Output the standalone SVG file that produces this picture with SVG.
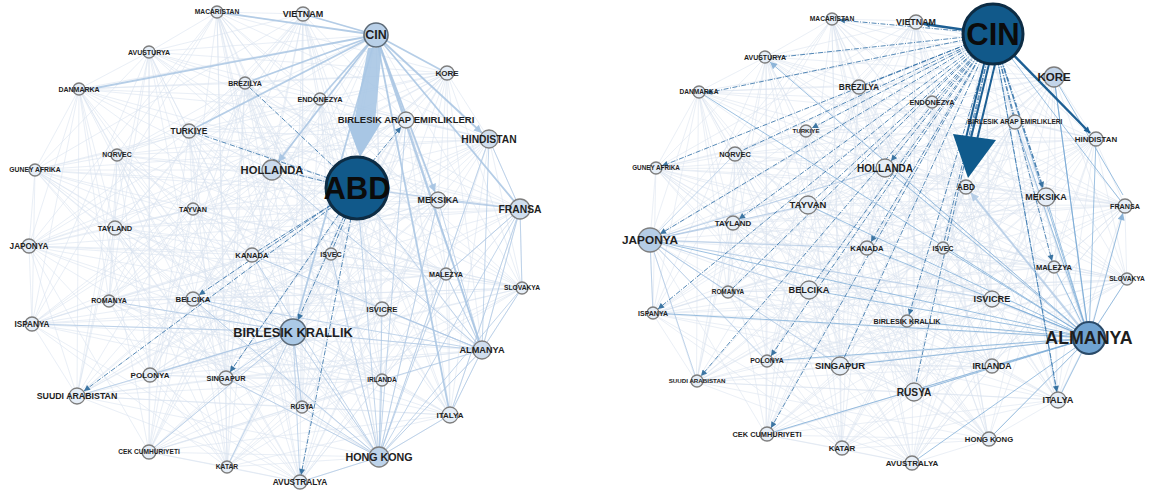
<svg xmlns="http://www.w3.org/2000/svg" xmlns:xlink="http://www.w3.org/1999/xlink" width="1149" height="491" viewBox="0 0 1149 491">
<style>
.m{fill:none;stroke:#bfd0e5;stroke-width:.55;opacity:.6}
.lt{fill:none;stroke:#a9c4e2;stroke-width:1;opacity:.7}
.lw{fill:none;stroke:#a9c5e3;stroke-width:1.8;opacity:.85}
.dd{fill:none;stroke:#2e6ea5;stroke-width:.95;stroke-dasharray:5 1.5 1 1.5;opacity:.85}
.ds{fill:none;stroke:#1d5f94;stroke-width:2.4}
.md{fill:none;stroke:#74a6d4;stroke-width:1;opacity:.7}
.n circle{fill:#e6eef7;stroke:#7e7e7e;stroke-width:1.3}
text{font-family:"Liberation Sans",Arial,sans-serif;font-weight:bold;fill:#1e1e1e;text-anchor:middle}
</style>
<defs>
<marker id="ad" viewBox="0 0 10 10" refX="10" refY="5" markerWidth="7" markerHeight="6" markerUnits="userSpaceOnUse" orient="auto"><path d="M0 0L10 5L0 10z" fill="#1d5f94"/></marker>
<marker id="am" viewBox="0 0 10 10" refX="10" refY="5" markerWidth="8" markerHeight="7" markerUnits="userSpaceOnUse" orient="auto"><path d="M0 0L10 5L0 10z" fill="#5f97c9"/></marker>
<marker id="al" viewBox="0 0 10 10" refX="10" refY="5" markerWidth="9" markerHeight="8" markerUnits="userSpaceOnUse" orient="auto"><path d="M0 0L10 5L0 10z" fill="#9fbfe0"/></marker>
<g id="mesh" class="m">
<path d="M217 12L303 14 376 35 149 52 245 83 79 89 447 73 320 99 406 120 489 139 189 131 117 155 35 170 272 170 357 188 438 200 520 209 193 209 115 228 29 246 252 255 331 254 446 274 522 288 109 301 193 299 32 324 293 332 382 309 482 350 150 375 226 378 77 396 382 380 302 407 450 415 149 452 227 467 379 457 300 482Z"/>
<path d="M217 12L149 52 447 73 489 139 35 170 438 200 115 228 331 254 109 301 293 332 150 375 382 380 149 452 300 482 376 35 79 89 406 120 117 155 357 188 193 209 252 255 522 288 32 324 482 350 77 396 450 415 379 457 303 14 245 83 320 99 189 131 272 170 520 209 29 246 446 274 193 299 382 309 226 378 302 407 227 467Z"/>
<path d="M217 12L320 99 357 188 331 254 382 309 450 415 376 35 489 139 520 209 522 288 150 375 227 467 245 83 117 155 115 228 193 299 77 396 300 482 447 73 272 170 252 255 293 332 302 407 303 14 406 120 438 200 446 274 482 350 149 452 149 52 189 131 193 209 109 301 226 378 379 457 79 89 35 170 29 246 32 324 382 380Z"/>
<path d="M217 12L489 139 115 228 293 332 149 452 79 89 357 188 522 288 77 396 303 14 189 131 29 246 382 309 227 467 447 73 438 200 109 301 382 380 376 35 117 155 252 255 482 350 379 457 320 99 520 209 193 299 302 407 149 52 35 170 331 254 150 375 300 482 406 120 193 209 32 324 450 415 245 83 272 170 446 274 226 378Z"/>
<path d="M217 12L117 155 446 274 382 380 245 83 438 200 32 324 227 467 406 120 29 246 150 375 303 14 35 170 522 288 302 407 79 89 520 209 293 332 379 457 489 139 252 255 226 378 376 35 272 170 109 301 450 415 447 73 193 209 382 309 300 482 189 131 331 254 77 396 149 52 357 188 193 299 149 452 320 99 115 228 482 350Z"/>
<path d="M217 12L272 170 32 324 300 482 35 170 193 299 379 457 117 155 109 301 227 467 189 131 522 288 149 452 489 139 446 274 450 415 406 120 331 254 302 407 320 99 252 255 382 380 447 73 29 246 77 396 79 89 115 228 226 378 245 83 193 209 150 375 149 52 520 209 482 350 376 35 438 200 382 309 303 14 357 188 293 332Z"/>
<path d="M217 12L193 209 302 407 117 155 382 309 79 89 446 274 300 482 520 209 382 380 189 131 293 332 245 83 331 254 379 457 438 200 77 396 489 139 32 324 149 52 252 255 227 467 357 188 226 378 406 120 193 299 376 35 29 246 149 452 272 170 150 375 320 99 109 301 303 14 115 228 450 415 35 170 482 350 447 73 522 288Z"/>
<path d="M217 12L29 246 379 457 193 209 149 452 438 200 302 407 272 170 77 396 117 155 150 375 489 139 382 309 320 99 32 324 79 89 109 301 149 52 446 274 303 14 252 255 300 482 115 228 227 467 520 209 450 415 357 188 382 380 35 170 226 378 189 131 482 350 406 120 293 332 447 73 193 299 245 83 522 288 376 35 331 254Z"/>
<path d="M217 12L376 35 245 83 447 73 406 120 189 131 35 170 357 188 520 209 115 228 252 255 446 274 109 301 32 324 382 309 150 375 77 396 302 407 149 452 379 457Z"/>
<path d="M303 14L149 52 79 89 320 99 489 139 117 155 272 170 438 200 193 209 29 246 331 254 522 288 193 299 293 332 482 350 226 378 382 380 450 415 227 467 300 482Z"/>
<path d="M217 12L447 73 35 170 115 228 109 301 150 375 149 452 376 35 406 120 357 188 252 255 32 324 77 396 379 457 245 83 189 131 520 209 446 274 382 309 302 407Z"/>
<path d="M303 14L320 99 272 170 29 246 193 299 226 378 227 467 149 52 489 139 438 200 331 254 293 332 382 380 300 482 79 89 117 155 193 209 522 288 482 350 450 415Z"/>
<path d="M217 12L357 188 382 309 376 35 520 209 150 375 245 83 115 228 77 396 447 73 252 255 302 407 406 120 446 274 149 452 189 131 109 301 379 457 35 170 32 324Z"/>
<path d="M303 14L272 170 482 350 149 52 193 209 226 378 79 89 29 246 382 380 320 99 331 254 450 415 489 139 522 288 227 467 117 155 193 299 300 482 438 200 293 332Z"/>
</g>
</defs>
<rect width="1149" height="491" fill="#ffffff"/>
<g id="connectors">
<use xlink:href="#mesh"/>
<use xlink:href="#mesh" transform="matrix(0.967 0 0 0.945 622 7.7)"/>
<g id="left-edges">
<path class="lt" d="M379 457L482 350M379 457L450 415M379 457L382 380M379 457L382 309M379 457L446 274M379 457L438 200M379 457L520 209M379 457L522 288M379 457L293 332M379 457L302 407M379 457L300 482M379 457L226 378M379 457L252 255M379 457L331 254M379 457L357 188M379 457L193 299M379 457L406 120M379 457L489 139M482 350L520 209M482 350L489 139M482 350L438 200M482 350L446 274M482 350L522 288M482 350L450 415M482 350L382 309M482 350L293 332M482 350L357 188M482 350L272 170M482 350L252 255M482 350L193 299M482 350L382 380M482 350L406 120M520 209L489 139M520 209L438 200M520 209L446 274M520 209L522 288M520 209L357 188M520 209L450 415M293 332L109 301M293 332L32 324M293 332L193 299M293 332L150 375M293 332L77 396M293 332L226 378M293 332L302 407M293 332L300 482M293 332L227 467M293 332L149 452"/>
<path class="lw" d="M376 35L310 16M376 35L441 70M376 35L324 94M376 35L403 112M376 35L514 201M376 35L195 128M376 35L251 81M376 35L479 341M376 35L297 319M376 35L224 13M376 35L450 415M376 35L85 90"/>
<path class="lw" marker-end="url(#al)" d="M376 35L482 133"/>
<path class="lw" marker-end="url(#al)" d="M376 35L435 192"/>
<path class="lw" marker-end="url(#al)" d="M376 35L278 162"/>
<polygon points="368,48 382,48 375,122 354,122" fill="#a8c6e4" opacity=".9"/>
<polygon points="346,120 381,123 360,157" fill="#a8c6e4"/>
<path class="dd" marker-end="url(#ad)" d="M372 162L401 127"/>
<path class="dd" d="M282 171L327 182"/>
<path class="dd" marker-end="url(#ad)" d="M332 207L84 391"/>
<path class="dd" marker-end="url(#ad)" d="M331 205L199 295"/>
<path class="dd" d="M331 205L258 251"/>
<path class="dd" marker-end="url(#ad)" d="M351 218L301 475"/>
<path class="dd" marker-end="url(#ad)" d="M339 214L230 372"/>
<path class="dd" marker-end="url(#ad)" d="M344 216L298 320"/>
<path class="dd" d="M346 217L333 248"/>
<path class="dd" d="M196 133L328 178"/>
<path class="dd" d="M249 87L334 167"/>
</g>
<g id="right-edges">
<path class="lt" d="M650 240L733 223M650 240L808 205M650 240L728 292M650 240L809 290M650 240L653 313M650 240L735 154M650 240L885 168M650 240L867 248M650 240L840 366M650 240L992 299M650 240L697 381M650 240L767 361"/>
<path class="md" d="M1089 338L704 95M1089 338L1127 279M1089 338L1096 139M1089 338L1046 197M1089 338L1054 77M1089 338L1058 400M1089 338L992 299M1089 338L943 248M1089 338L907 321M1089 338L867 248M1089 338L653 313M1089 338L914 392M1089 338L912 463M1089 338L989 439M1089 338L840 366M1089 338L767 361M1089 338L885 168M1089 338L809 290M1089 338L992 366M1089 338L808 205M1089 338L650 240M1089 338L1054 267M1089 338L767 434M1089 338L1015 122M1054 77L1123 195M1054 77L1089 338"/>
<path class="md" marker-end="url(#am)" d="M1089 338L770 62"/>
<path class="md" marker-end="url(#am)" d="M1089 338L1123 213"/>
<path class="md" marker-end="url(#al)" style="stroke:#a9c5e3;stroke-width:2" d="M1089 338L971 193"/>
<path class="md" d="M993 34L1120 200M993 34L1084 323M993 34L1058 400"/>
<path class="ds" marker-end="url(#ad)" d="M993 34L924 24"/>
<path class="ds" marker-end="url(#ad)" d="M993 34L1090 133"/>
<path class="dd" marker-end="url(#ad)" d="M993 34L839 20"/>
<path class="dd" marker-end="url(#ad)" style="stroke-width:1.6" d="M993 34L1043 188"/>
<path class="dd" d="M993 34L1013 115M993 34L936 97M993 34L866 84M993 34L815 199M993 34L814 283M993 34L733 288M993 34L944 242M993 34L844 358M993 34L916 383M993 34L741 151M993 34L771 58"/>
<path class="dd" marker-end="url(#ad)" d="M993 34L891 161"/>
<path class="dd" marker-end="url(#ad)" d="M993 34L812 128"/>
<path class="dd" marker-end="url(#ad)" d="M993 34L706 93"/>
<path class="dd" marker-end="url(#ad)" d="M993 34L662 166"/>
<path class="dd" marker-end="url(#ad)" d="M993 34L660 234"/>
<path class="dd" marker-end="url(#ad)" d="M993 34L739 219"/>
<path class="dd" marker-end="url(#ad)" d="M993 34L658 309"/>
<path class="dd" marker-end="url(#ad)" d="M993 34L701 376"/>
<path class="dd" marker-end="url(#ad)" d="M993 34L771 356"/>
<path class="dd" marker-end="url(#ad)" d="M993 34L771 428"/>
<path class="dd" marker-end="url(#ad)" d="M993 34L871 242"/>
<path class="dd" marker-end="url(#ad)" d="M993 34L909 315"/>
<path class="dd" marker-end="url(#ad)" d="M993 34L1057 392"/>
<path class="dd" marker-end="url(#ad)" d="M993 34L1052 261"/>
<path class="ds" style="stroke-width:2" d="M985 60L966 138M990 60L971 138M996 60L977 140"/>
<polygon points="953,134 996,140 968,178" fill="#0f5a8c"/>
</g>
</g>
<g id="nodes-left">
<g id="L-macaristan" class="n"><circle cx="217" cy="12" r="6"/><text x="217" y="14.3" font-size="6.7">MACARISTAN</text></g>
<g id="L-vietnam" class="n"><circle cx="303" cy="14" r="7"/><text x="303" y="17.2" font-size="9">VIETNAM</text></g>
<g id="L-cin" class="n"><circle cx="376" cy="35" r="12" style="fill:#b9d0e8;stroke:#5d6b78;stroke-width:1.6"/><text x="376" y="39.4" font-size="12.5">CIN</text></g>
<g id="L-avusturya" class="n"><circle cx="149" cy="52" r="6"/><text x="149" y="54.5" font-size="7">AVUSTURYA</text></g>
<g id="L-brezilya" class="n"><circle cx="245" cy="83" r="6"/><text x="245" y="85.5" font-size="7">BREZILYA</text></g>
<g id="L-danmarka" class="n"><circle cx="79" cy="89" r="6"/><text x="79" y="91.5" font-size="7">DANMARKA</text></g>
<g id="L-kore" class="n"><circle cx="447" cy="73" r="7"/><text x="447" y="75.8" font-size="8">KORE</text></g>
<g id="L-endonezya" class="n"><circle cx="320" cy="99" r="6"/><text x="320" y="101.5" font-size="7.3">ENDONEZYA</text></g>
<g id="L-bae" class="n"><circle cx="406" cy="120" r="8"/><text x="406" y="123.3" font-size="9.5">BIRLESIK ARAP EMIRLIKLERI</text></g>
<g id="L-hindistan" class="n"><circle cx="489" cy="139" r="9" style="fill:#d0deee"/><text x="489" y="142.6" font-size="10.3">HINDISTAN</text></g>
<g id="L-turkiye" class="n"><circle cx="189" cy="131" r="7"/><text x="189" y="133.9" font-size="8.4">TURKIYE</text></g>
<g id="L-norvec" class="n"><circle cx="117" cy="155" r="6"/><text x="117" y="157.4" font-size="6.9">NORVEC</text></g>
<g id="L-guney-afrika" class="n"><circle cx="35" cy="170" r="6"/><text x="35" y="172.4" font-size="6.8">GUNEY AFRIKA</text></g>
<g id="L-hollanda" class="n"><circle cx="272" cy="170" r="10" style="fill:#c9daec"/><text x="272" y="173.9" font-size="11.2">HOLLANDA</text></g>
<g id="L-abd" class="n"><circle cx="357" cy="188" r="31" style="fill:#11598a;stroke:#0d2c44;stroke-width:3"/><text x="357" y="199" font-size="31" style="fill:#0b0b0b">ABD</text></g>
<g id="L-meksika" class="n"><circle cx="438" cy="200" r="8"/><text x="438" y="203.1" font-size="8.9">MEKSIKA</text></g>
<g id="L-fransa" class="n"><circle cx="520" cy="209" r="10" style="fill:#d0deee"/><text x="520" y="212.6" font-size="10.3">FRANSA</text></g>
<g id="L-tayvan" class="n"><circle cx="193" cy="209" r="6"/><text x="193" y="211.5" font-size="7.2">TAYVAN</text></g>
<g id="L-tayland" class="n"><circle cx="115" cy="228" r="7"/><text x="115" y="230.6" font-size="7.5">TAYLAND</text></g>
<g id="L-japonya" class="n"><circle cx="29" cy="246" r="7"/><text x="29" y="248.9" font-size="8.2">JAPONYA</text></g>
<g id="L-kanada" class="n"><circle cx="252" cy="255" r="7"/><text x="252" y="257.7" font-size="7.7">KANADA</text></g>
<g id="L-isvec" class="n"><circle cx="331" cy="254" r="6"/><text x="331" y="256.5" font-size="7.2">ISVEC</text></g>
<g id="L-malezya" class="n"><circle cx="446" cy="274" r="6"/><text x="446" y="276.5" font-size="7.2">MALEZYA</text></g>
<g id="L-slovakya" class="n"><circle cx="522" cy="288" r="6"/><text x="522" y="290.3" font-size="6.7">SLOVAKYA</text></g>
<g id="L-romanya" class="n"><circle cx="109" cy="301" r="6"/><text x="109" y="303.4" font-size="7">ROMANYA</text></g>
<g id="L-belcika" class="n"><circle cx="193" cy="299" r="7"/><text x="193" y="301.8" font-size="7.9">BELCIKA</text></g>
<g id="L-ispanya" class="n"><circle cx="32" cy="324" r="7"/><text x="32" y="326.9" font-size="8.2">ISPANYA</text></g>
<g id="L-birlesik-krallik" class="n"><circle cx="293" cy="332" r="13" style="fill:#abc9e6;stroke:#5d6b78;stroke-width:1.6"/><text x="293" y="336.5" font-size="12.8">BIRLESIK KRALLIK</text></g>
<g id="L-isvicre" class="n"><circle cx="382" cy="309" r="7"/><text x="382" y="311.7" font-size="7.7">ISVICRE</text></g>
<g id="L-almanya" class="n"><circle cx="482" cy="350" r="9" style="fill:#d0deee"/><text x="482" y="353.2" font-size="9.2">ALMANYA</text></g>
<g id="L-polonya" class="n"><circle cx="150" cy="375" r="7"/><text x="150" y="377.8" font-size="8">POLONYA</text></g>
<g id="L-singapur" class="n"><circle cx="226" cy="378" r="7"/><text x="226" y="380.6" font-size="7.4">SINGAPUR</text></g>
<g id="L-suudi-arabistan" class="n"><circle cx="77" cy="396" r="8"/><text x="77" y="399.1" font-size="8.8">SUUDI ARABISTAN</text></g>
<g id="L-irlanda" class="n"><circle cx="382" cy="380" r="6"/><text x="382" y="382.3" font-size="6.6">IRLANDA</text></g>
<g id="L-rusya" class="n"><circle cx="302" cy="407" r="6"/><text x="302" y="409.3" font-size="6.7">RUSYA</text></g>
<g id="L-italya" class="n"><circle cx="450" cy="415" r="8"/><text x="450" y="417.8" font-size="8">ITALYA</text></g>
<g id="L-cek-cumhuriyeti" class="n"><circle cx="149" cy="452" r="7"/><text x="149" y="454.3" font-size="6.6">CEK CUMHURIYETI</text></g>
<g id="L-katar" class="n"><circle cx="227" cy="467" r="6"/><text x="227" y="469.3" font-size="6.7">KATAR</text></g>
<g id="L-hong-kong" class="n"><circle cx="379" cy="457" r="10" style="fill:#bdd3ea"/><text x="379" y="460.7" font-size="10.7">HONG KONG</text></g>
<g id="L-avustralya" class="n"><circle cx="300" cy="482" r="7"/><text x="300" y="484.9" font-size="8.3">AVUSTRALYA</text></g>
</g>
<g id="nodes-right">
<g id="R-macaristan" class="n"><circle cx="832" cy="19" r="6"/><text x="832" y="21.3" font-size="6.7">MACARISTAN</text></g>
<g id="R-vietnam" class="n"><circle cx="916" cy="22" r="7"/><text x="916" y="25.1" font-size="8.9">VIETNAM</text></g>
<g id="R-cin" class="n"><circle cx="993" cy="34" r="30" style="fill:#11598a;stroke:#0d2c44;stroke-width:3"/><text x="993" y="45" font-size="31" style="fill:#0b0b0b">CIN</text></g>
<g id="R-avusturya" class="n"><circle cx="765" cy="57" r="6"/><text x="765" y="59.5" font-size="7">AVUSTURYA</text></g>
<g id="R-brezilya" class="n"><circle cx="859" cy="87" r="7"/><text x="859" y="89.9" font-size="8.4">BREZILYA</text></g>
<g id="R-danmarka" class="n"><circle cx="699" cy="92" r="6"/><text x="699" y="94.3" font-size="6.6">DANMARKA</text></g>
<g id="R-kore" class="n"><circle cx="1054" cy="77" r="10" style="fill:#c3d5ea"/><text x="1054" y="81" font-size="11.5">KORE</text></g>
<g id="R-endonezya" class="n"><circle cx="932" cy="102" r="6"/><text x="932" y="104.5" font-size="7.3">ENDONEZYA</text></g>
<g id="R-bae" class="n"><circle cx="1015" cy="122" r="7"/><text x="1015" y="124.3" font-size="6.6">BIRLESIK ARAP EMIRLIKLERI</text></g>
<g id="R-hindistan" class="n"><circle cx="1096" cy="139" r="7"/><text x="1096" y="141.8" font-size="7.9">HINDISTAN</text></g>
<g id="R-turkiye" class="n"><circle cx="806" cy="131" r="6"/><text x="806" y="133.2" font-size="6.2">TURKIYE</text></g>
<g id="R-norvec" class="n"><circle cx="735" cy="154" r="7"/><text x="735" y="156.6" font-size="7.4">NORVEC</text></g>
<g id="R-guney-afrika" class="n"><circle cx="656" cy="168" r="6"/><text x="656" y="170.2" font-size="6.3">GUNEY AFRIKA</text></g>
<g id="R-hollanda" class="n"><circle cx="885" cy="168" r="9"/><text x="885" y="171.5" font-size="10">HOLLANDA</text></g>
<g id="R-abd" class="n"><circle cx="966" cy="187" r="7"/><text x="966" y="190" font-size="8.5">ABD</text></g>
<g id="R-meksika" class="n"><circle cx="1046" cy="197" r="9"/><text x="1046" y="200.2" font-size="9">MEKSIKA</text></g>
<g id="R-fransa" class="n"><circle cx="1125" cy="206" r="7"/><text x="1125" y="208.5" font-size="7.2">FRANSA</text></g>
<g id="R-tayvan" class="n"><circle cx="808" cy="205" r="9"/><text x="808" y="208.3" font-size="9.5">TAYVAN</text></g>
<g id="R-tayland" class="n"><circle cx="733" cy="223" r="7"/><text x="733" y="225.8" font-size="7.9">TAYLAND</text></g>
<g id="R-japonya" class="n"><circle cx="650" cy="240" r="12" style="fill:#b5cde6"/><text x="650" y="244.1" font-size="11.8">JAPONYA</text></g>
<g id="R-kanada" class="n"><circle cx="867" cy="248" r="7"/><text x="867" y="250.7" font-size="7.7">KANADA</text></g>
<g id="R-isvec" class="n"><circle cx="943" cy="248" r="6"/><text x="943" y="250.5" font-size="7">ISVEC</text></g>
<g id="R-malezya" class="n"><circle cx="1054" cy="267" r="6"/><text x="1054" y="269.7" font-size="7.6">MALEZYA</text></g>
<g id="R-slovakya" class="n"><circle cx="1127" cy="279" r="6"/><text x="1127" y="281.3" font-size="6.6">SLOVAKYA</text></g>
<g id="R-romanya" class="n"><circle cx="728" cy="292" r="6"/><text x="728" y="294.2" font-size="6.4">ROMANYA</text></g>
<g id="R-belcika" class="n"><circle cx="809" cy="290" r="9"/><text x="809" y="293.2" font-size="9.2">BELCIKA</text></g>
<g id="R-ispanya" class="n"><circle cx="653" cy="313" r="6"/><text x="653" y="315.5" font-size="7">ISPANYA</text></g>
<g id="R-isvicre" class="n"><circle cx="992" cy="299" r="8"/><text x="992" y="302.2" font-size="9.2">ISVICRE</text></g>
<g id="R-birlesik-krallik" class="n"><circle cx="907" cy="321" r="6"/><text x="907" y="323.5" font-size="7.2">BIRLESIK KRALLIK</text></g>
<g id="R-almanya" class="n"><circle cx="1089" cy="338" r="16" style="fill:#6fa2d0;stroke:#2a4a68;stroke-width:2"/><text x="1089" y="344.2" font-size="17.8">ALMANYA</text></g>
<g id="R-polonya" class="n"><circle cx="767" cy="361" r="6"/><text x="767" y="363.4" font-size="6.9">POLONYA</text></g>
<g id="R-singapur" class="n"><circle cx="840" cy="366" r="9"/><text x="840" y="369.3" font-size="9.5">SINGAPUR</text></g>
<g id="R-suudi-arabistan" class="n"><circle cx="697" cy="381" r="6"/><text x="697" y="383.2" font-size="6.2">SUUDI ARABISTAN</text></g>
<g id="R-irlanda" class="n"><circle cx="992" cy="366" r="7"/><text x="992" y="369" font-size="8.7">IRLANDA</text></g>
<g id="R-rusya" class="n"><circle cx="914" cy="392" r="9"/><text x="914" y="395.6" font-size="10.2">RUSYA</text></g>
<g id="R-italya" class="n"><circle cx="1058" cy="400" r="8"/><text x="1058" y="403.2" font-size="9.2">ITALYA</text></g>
<g id="R-hong-kong" class="n"><circle cx="989" cy="439" r="7"/><text x="989" y="441.7" font-size="7.7">HONG KONG</text></g>
<g id="R-cek-cumhuriyeti" class="n"><circle cx="767" cy="434" r="7"/><text x="767" y="436.6" font-size="7.4">CEK CUMHURIYETI</text></g>
<g id="R-katar" class="n"><circle cx="842" cy="448" r="7"/><text x="842" y="450.8" font-size="7.9">KATAR</text></g>
<g id="R-avustralya" class="n"><circle cx="912" cy="463" r="7"/><text x="912" y="465.8" font-size="8">AVUSTRALYA</text></g>
</g>
</svg>
